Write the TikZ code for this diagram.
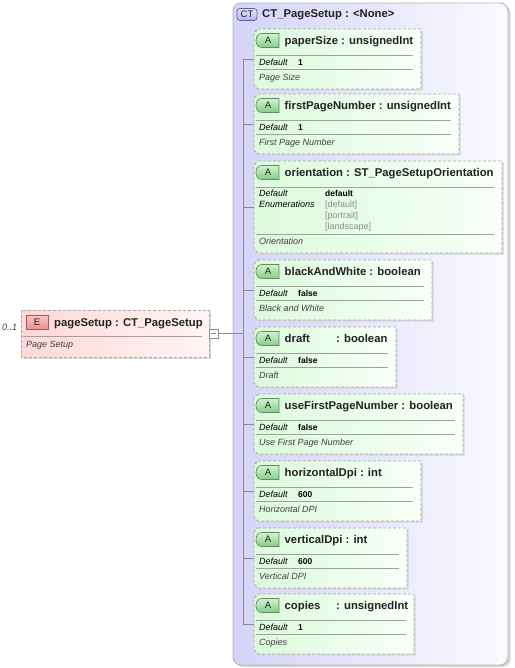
\documentclass[tikz,border=0pt]{standalone}
\usepackage{fontspec}
\setmainfont{Liberation Sans}
\definecolor{attrL}{HTML}{DCFADC}
\definecolor{attrR}{HTML}{F8FFF8}
\definecolor{ctL}{HTML}{D4D4FA}
\definecolor{ctR}{HTML}{FAFAFF}
\definecolor{ctborder}{HTML}{B4B4B4}
\definecolor{elL}{HTML}{FFD8D8}
\definecolor{elR}{HTML}{FFF4F4}
\definecolor{dashc}{HTML}{A8A8A8}
\definecolor{sepc}{HTML}{A0A0A0}
\definecolor{connc}{HTML}{8C8C8C}
\definecolor{shadowc}{HTML}{D6D6D6}
\definecolor{titlec}{HTML}{222222}
\definecolor{descc}{HTML}{404040}
\definecolor{enumc}{HTML}{8C8C8C}
\definecolor{abadgeT}{HTML}{D2F2D2}
\definecolor{abadgeB}{HTML}{86CC86}
\definecolor{abadgeD}{HTML}{5E8E5E}
\definecolor{ebadgeT}{HTML}{FBC4C4}
\definecolor{ebadgeB}{HTML}{EE8E8E}
\definecolor{ebadgeD}{HTML}{A45A5A}
\definecolor{ctbadgeT}{HTML}{E2E2FC}
\definecolor{ctbadgeB}{HTML}{B4B4F0}
\definecolor{ctbadgeD}{HTML}{60609C}
\definecolor{badgetc}{HTML}{202020}
\tikzset{
  ctbox/.style={draw=ctborder, line width=0.9pt, rounded corners=8pt, left color=ctL, right color=ctR},
  attrbox/.style={draw=dashc, dash pattern=on 3pt off 2pt, line width=0.8pt, left color=attrL, right color=attrR},
  elbox/.style={draw=dashc, dash pattern=on 3pt off 2pt, line width=0.8pt, left color=elL, right color=elR},
  shadowbox/.style={fill=shadowc},
  sep/.style={draw=sepc, line width=0.7pt},
  conn/.style={draw=connc, line width=0.7pt},
  ttl/.style={anchor=base west, inner sep=0pt, font=\fontsize{11.3}{13}\selectfont\bfseries, text=titlec},
  lbl/.style={anchor=base west, inner sep=0pt, font=\fontsize{9}{11}\selectfont\itshape, text=black},
  val/.style={anchor=base west, inner sep=0pt, font=\fontsize{8.5}{10}\selectfont\bfseries, text=black},
  dsc/.style={anchor=base west, inner sep=0pt, font=\fontsize{9}{11}\selectfont\itshape, text=descc},
  enumv/.style={anchor=base west, inner sep=0pt, font=\fontsize{9}{11}\selectfont, text=enumc},
  abadge/.style={draw=abadgeD, line width=0.7pt, top color=abadgeT, bottom color=abadgeB},
  ebadge/.style={draw=ebadgeD, line width=0.7pt, top color=ebadgeT, bottom color=ebadgeB},
  ctbadge/.style={draw=ctbadgeD, line width=0.7pt, rounded corners=3pt, top color=ctbadgeT, bottom color=ctbadgeB},
  badgetxt/.style={inner sep=0pt, font=\fontsize{9.5}{11}\selectfont, text=badgetc},
  collapse/.style={draw=connc, fill=white, line width=0.7pt, minimum size=9pt, inner sep=0pt},
}
% #1 id, #2 top, #3 right, #4 bottom
\newcommand\AttrFrame[4]{%
  \fill[shadowbox] (259.5,{#2+1.5}) -- ({#3+1.5},{#2+1.5}) -- ({#3+1.5},{#4+1.5}) -- (259.5,{#4+1.5}) -- (255.5,{#4-2.5}) -- (255.5,{#2+5.5}) -- cycle;
  \path[attrbox] (258,#2) -- (#3,#2) -- (#3,#4) -- (258,#4) -- (254,{#4-4}) -- (254,{#2+4}) -- cycle;
  \path[abadge] (279,{#2+4.5}) -- (262,{#2+4.5}) .. controls (257.6,{#2+4.5}) and (256,{#2+8}) .. (256,{#2+11.5}) .. controls (256,{#2+15}) and (257.6,{#2+18.5}) .. (262,{#2+18.5}) -- (279,{#2+18.5}) -- cycle;
  \node[badgetxt] (#1a) at (268,{#2+11.5}) {A};
}
% #1 id, #2 top, #3 right, #4 title, #5 default, #6 desc
\newcommand\StdAttr[6]{%
  \AttrFrame{#1}{#2}{#3}{#2+60}
  \node[ttl] (#1t) at (284.5,{#2+15.5}) {#4};
  \draw[sep] (256,{#2+26}) -- ({#3-8},{#2+26});
  \node[lbl] (#1d) at (259,{#2+36.5}) {Default};
  \node[val] (#1v) at (298,{#2+36.5}) {#5};
  \draw[sep] (256,{#2+40.5}) -- ({#3-8},{#2+40.5});
  \node[dsc] (#1s) at (259,{#2+51.5}) {#6};
  \coordinate (#1k) at (254,{#2+30});
  \coordinate (#1b) at (243,{#2+30});
  \draw[conn] (#1b) -- (#1k);
}
\begin{document}
\begin{tikzpicture}[x=1pt,y=-1pt]
\useasboundingbox (0,0) rectangle (514,668);
% complex type container
\fill[shadowc, rounded corners=8pt] (235,5) rectangle (510.5,667);
\path[ctbox] (233,3) rectangle (508,665);
\path[ctbadge] (237,8.5) rectangle (257,20.5);
\node[badgetxt] (ctb) at (247,14.5) {CT};
\node[ttl] (ctt) at (262,18) {CT\_PageSetup : <None>};
% bus
\coordinate (busTop) at (243,59);
\coordinate (busBot) at (243,624);
\draw[conn] (busTop) -- (busBot);
% attributes
\StdAttr{ps}{29}{421}{paperSize : unsignedInt}{1}{Page Size}
\StdAttr{fp}{94}{459}{firstPageNumber : unsignedInt}{1}{First Page Number}
% orientation
\AttrFrame{or}{161}{502}{253}
\node[ttl] (ort) at (284.5,176.5) {orientation : ST\_PageSetupOrientation};
\draw[sep] (256,187) -- (494,187);
\node[lbl] (ord) at (259,196.5) {Default};
\node[val] (orv) at (325,196.5) {default};
\node[lbl] (ore) at (259,207.5) {Enumerations};
\node[enumv] (ore1) at (325,207.5) {[default]};
\node[enumv] (ore2) at (325,218.5) {[portrait]};
\node[enumv] (ore3) at (325,229.5) {[landscape]};
\draw[sep] (256,234) -- (494,234);
\node[dsc] (ors) at (259,244.5) {Orientation};
\coordinate (ork) at (254,207);
\coordinate (orb) at (243,207);
\draw[conn] (orb) -- (ork);
\StdAttr{bw}{260}{432}{blackAndWhite : boolean}{false}{Black and White}
\StdAttr{dr}{327}{396}{\makebox[51.5pt][l]{draft}: boolean}{false}{Draft}
\StdAttr{uf}{394}{463}{useFirstPageNumber : boolean}{false}{Use First Page Number}
\StdAttr{hd}{461}{421}{horizontalDpi : int}{600}{Horizontal DPI}
\StdAttr{vd}{528}{407}{verticalDpi : int}{600}{Vertical DPI}
\StdAttr{cp}{594}{414}{\makebox[51.5pt][l]{copies}: unsignedInt}{1}{Copies}
% element
\fill[shadowbox] (22.5,311.5) rectangle (210.5,358.5);
\path[elbox] (21,310) rectangle (209,357);
\path[ebadge] (26,315.5) rectangle (48,329.5);
\node[badgetxt] (eb) at (37,322.5) {E};
\node[ttl] (elt) at (54,326.5) {pageSetup : CT\_PageSetup};
\draw[sep] (23,336) -- (202,336);
\node[dsc] (eld) at (26,347) {Page Setup};
\node[lbl, text=descc] (card) at (2,330.5) {0..1};
\node[collapse] (col) at (213.5,333.5) {};
\draw[conn] ([xshift=2pt]col.west) -- ([xshift=-2pt]col.east);
\coordinate (busMid) at (243,333.5);
\draw[conn] (col.east) -- (busMid);
\end{tikzpicture}
\end{document}
